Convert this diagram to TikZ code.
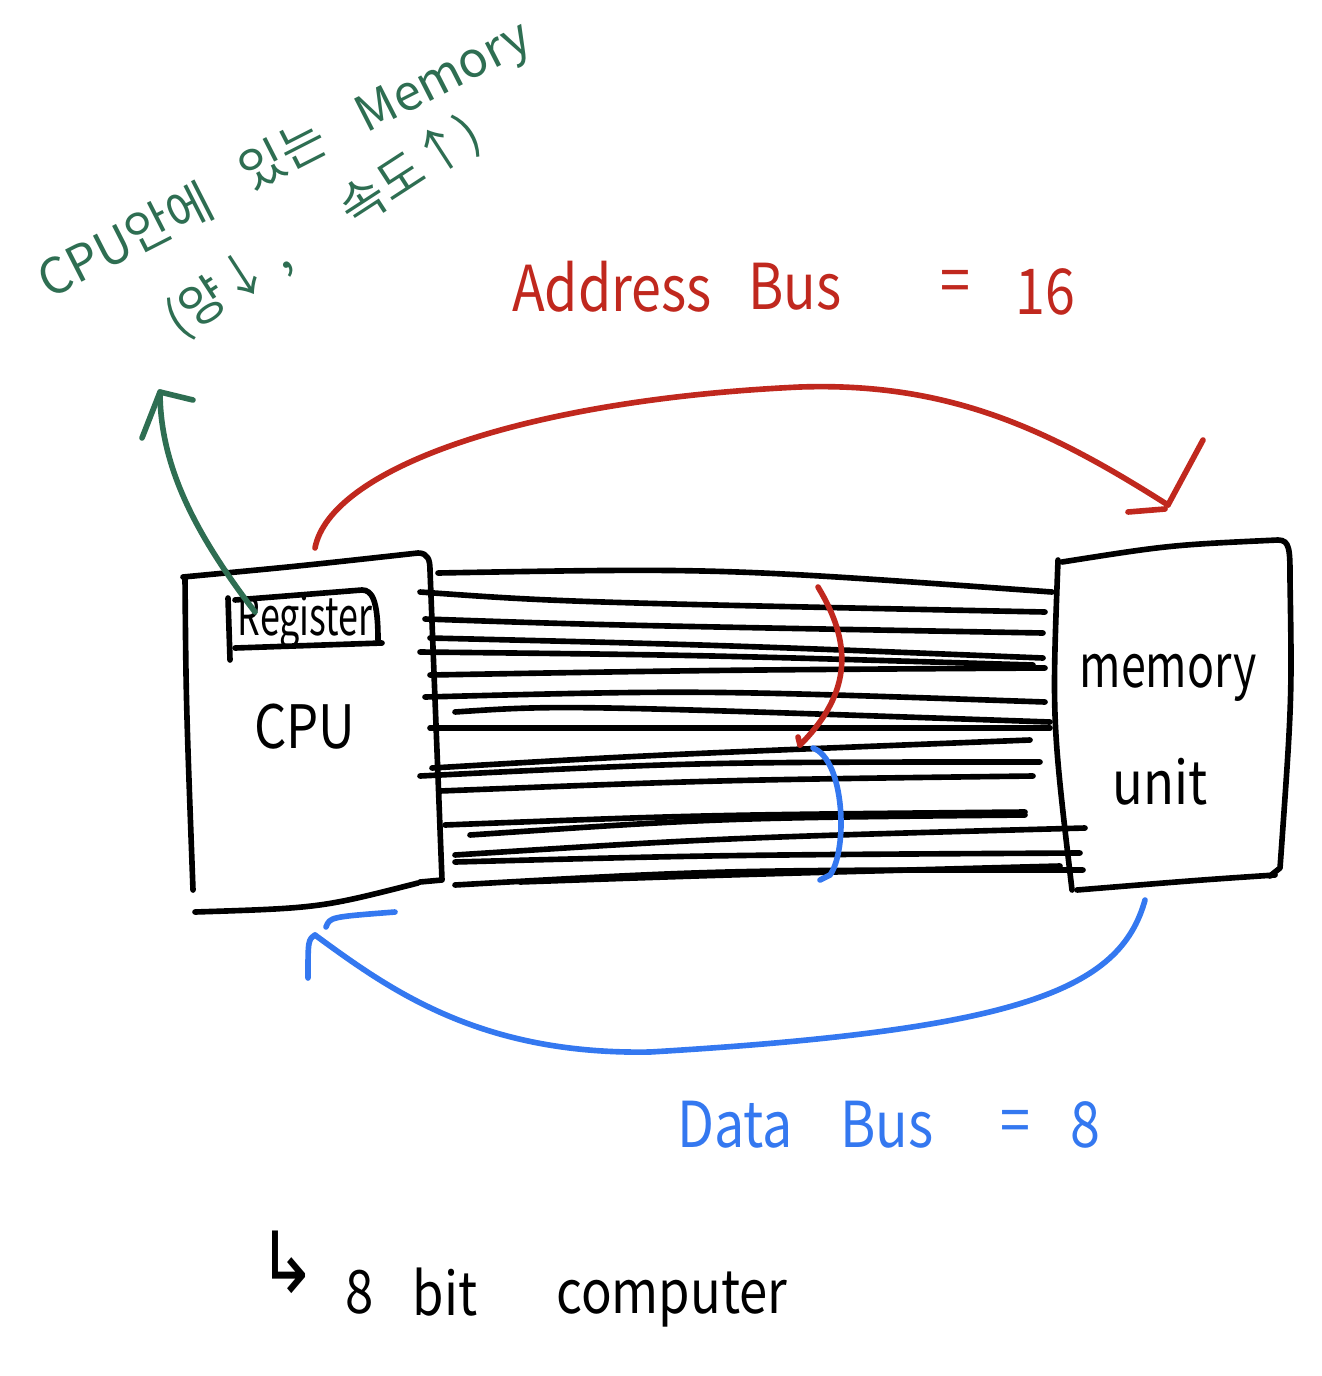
\documentclass[tikz,border=0pt]{standalone}
\usepackage{fontspec}
\setmainfont{Noto Sans CJK KR}
\newfontfamily\symfont{DejaVu Sans}
\usetikzlibrary{arrows.meta}
\definecolor{gr}{HTML}{2E6E52}
\definecolor{rd}{HTML}{C0281E}
\definecolor{bl}{HTML}{3478F0}
\tikzset{
  pen/.style={line width=1.6pt, line cap=round, line join=round},
  boxline/.style={pen, black},
  busline/.style={pen, black},
  txt/.style={inner sep=0pt, transform shape},
  bigtxt/.style={txt, font=\fontsize{18}{20}\selectfont, xscale=0.85},
  blktxt/.style={txt, black, font=\fontsize{17}{20}\selectfont, xscale=0.85},
  grtxt/.style={txt, gr, font=\fontsize{14}{16}\selectfont},
}
\begin{document}
\begin{tikzpicture}[x=0.01cm, y=-0.01cm]
\useasboundingbox (0,0) rectangle (1322,1376);

% ---------- CPU box ----------
\node[minimum width=2.5cm, minimum height=3.3cm] (cpu) at (313,732) {};
\draw[boxline] (185,577) .. controls (186,700) .. (193,890);
\draw[boxline] (183,577) .. controls (300,566) .. (418,553) .. controls (428,553) and (430,560) .. (430,570) -- (442,880) -- (420,882);
\draw[boxline] (195,912) .. controls (320,908) .. (418,883);
% Register box
\node[blktxt, font=\fontsize{15}{18}\selectfont, xscale=0.8] (reg) at (305,622) {Register};
\draw[boxline] (228,598) -- (230,660);
\draw[boxline] (235,600) -- (362,590) .. controls (372,590) and (378,600) .. (378,640);
\draw[boxline] (235,648) -- (382,643);
\node[blktxt] (cputxt) at (305,727) {CPU};

% ---------- Memory box ----------
\node[minimum width=2.2cm, minimum height=3.3cm] (mem) at (1170,715) {};
\draw[boxline] (1058,560) .. controls (1052,720) .. (1072,890);
\draw[boxline] (1062,562) .. controls (1170,545) .. (1278,540) .. controls (1290,540) and (1290,550) .. (1290,580) .. controls (1292,700) .. (1280,868) -- (1270,876);
\draw[boxline] (1077,890) .. controls (1200,880) .. (1275,875);
\node[blktxt, xscale=0.88] (memtxt) at (1168,678) {memory};
\node[blktxt] (unittxt) at (1160,782) {unit};

% ---------- Bus lines ----------
\foreach \xa/\ya/\xb/\yb/\xc/\yc in {
  438/573/720/568/1052/592,
  420/592/560/602/1045/612,
  425/619/600/625/1043/633,
  430/638/720/645/1043/658,
  420/652/700/655/1033/665,
  430/675/720/670/1045/668,
  425/697/700/690/1045/702,
  455/712/560/705/1050/722,
  430/728/700/728/1050/728,
  432/768/650/755/1030/740,
  420/776/700/762/1040/762,
  440/791/720/780/1033/776,
  445/825/700/815/1025/812,
  470/835/720/818/1025/815,
  455/855/720/838/1085/828,
  455/862/720/855/1080/853,
  455/885/720/870/1083/870,
  520/882/720/875/1060/866}{
  \draw[busline] (\xa,\ya) .. controls (\xb,\yb) .. (\xc,\yc);
}

% ---------- Address bus (red) ----------
\coordinate (aS) at (315,548);
\coordinate (aE) at (1168,505);
\draw[pen, rd] (aS) .. controls (330,470) and (520,400) .. (800,387)
  .. controls (950,382) and (1050,430) .. (aE);
\draw[pen, rd] (1128,512) -- (1165,509);
\draw[pen, rd] (aE) -- (1203,440);
\node[bigtxt, rd] (addr) at (612,287) {Address};
\node[bigtxt, rd] (abus) at (795,287) {Bus};
\node[bigtxt, rd] (aeq) at (955,287) {=};
\node[bigtxt, rd] (a16) at (1045,292) {16};

% red small arrow across bus
\coordinate (rS) at (818,587);
\coordinate (rE) at (800,745);
\draw[pen, rd] (rS) .. controls (850,640) and (855,690) .. (rE);
\draw[pen, rd] (rE) -- (798,737);

% blue small arc
\coordinate (bS) at (813,748);
\coordinate (bE) at (820,880);
\draw[pen, bl] (bS) .. controls (845,760) and (848,850) .. (830,875) -- (bE);

% ---------- Data bus (blue) ----------
\coordinate (dS) at (1145,900);
\coordinate (dE) at (315,935);
\draw[pen, bl] (dS) .. controls (1120,990) and (1020,1030) .. (650,1052)
  .. controls (480,1055) and (390,990) .. (dE);
\draw[pen, bl] (dE) .. controls (308,940) .. (308,978);
\draw[pen, bl] (326,927) .. controls (330,917) .. (395,912);
\node[bigtxt, bl] (data) at (735,1125) {Data};
\node[bigtxt, bl] (dbus) at (887,1125) {Bus};
\node[bigtxt, bl] (deq) at (1015,1127) {=};
\node[bigtxt, bl] (d8) at (1085,1125) {8};

% ---------- Register annotation (green) ----------
\coordinate (gS) at (255,612);
\coordinate (gE) at (160,392);
\draw[pen, gr] (gS) .. controls (200,540) and (160,470) .. (gE);
\draw[pen, gr] (142,438) -- (gE) -- (193,400);
\node[grtxt, rotate=27] (g1) at (125,240) {CPU안에};
\node[grtxt, rotate=27] (g2) at (282,154) {있는};
\node[grtxt, rotate=27] (g3) at (445,80) {Memory};
\node[grtxt, rotate=33] (g4) at (228,288) {(양↓ ,};
\node[grtxt, rotate=33] (g5) at (410,172) {속도↑)};

% ---------- bottom note ----------
\node[blktxt, font=\symfont\fontsize{24}{26}\selectfont] (hook) at (288,1262) {↳};
\node[blktxt] (n8) at (360,1292) {8};
\node[blktxt] (nbit) at (445,1292) {bit};
\node[blktxt] (ncomp) at (672,1300) {computer};
\end{tikzpicture}
\end{document}
